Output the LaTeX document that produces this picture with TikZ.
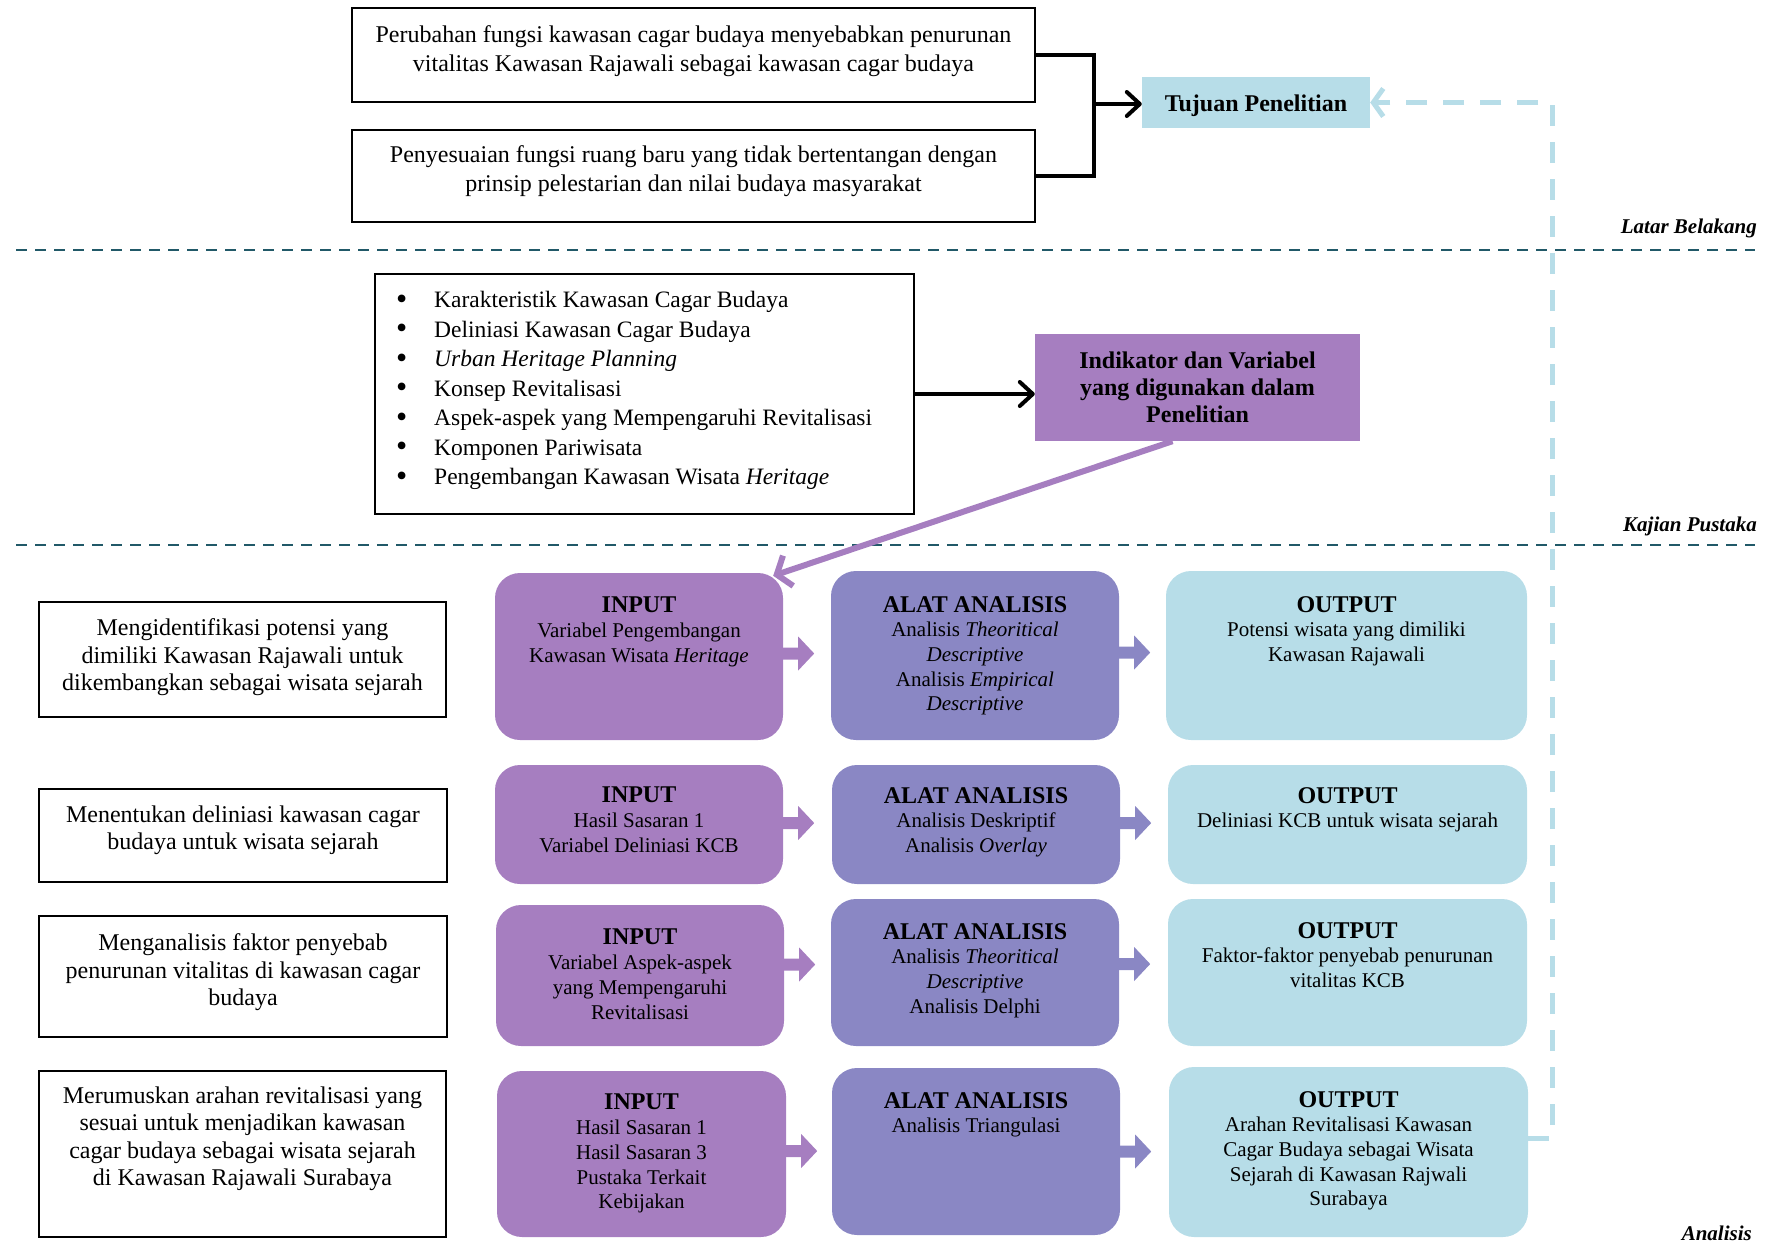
\documentclass[tikz,border=0pt]{standalone}
\usepackage{fontspec}
\setmainfont{Liberation Serif}
\usetikzlibrary{arrows.meta,calc}
\definecolor{inpurple}{HTML}{A67EC0}
\definecolor{alatblue}{HTML}{8A87C4}
\definecolor{outblue}{HTML}{B7DDE8}
\definecolor{septeal}{HTML}{215968}
\newcommand{\boxtitle}[1]{{\fontsize{24}{24.7}\selectfont\bfseries #1}}
\newcommand{\bul}{\makebox[38pt][l]{\raisebox{-1.5pt}{\fontsize{32}{30}\selectfont\textbullet}}}
\newcommand{\blockarrow}[2]{\fill[#1, shift={#2}] (0,-6) -- (15,-6) -- (15,-17) -- (31,0) -- (15,17) -- (15,6) -- (0,6) -- cycle;}
\begin{document}
\begin{tikzpicture}[x=1pt,y=-1pt,
  blackbox/.style={draw=black, line width=1.6pt, inner sep=0pt},
  inbox/.style={fill=inpurple, rounded corners=25pt, inner sep=0pt},
  alatbox/.style={fill=alatblue, rounded corners=25pt, inner sep=0pt},
  outbox/.style={fill=outblue, rounded corners=25pt, inner sep=0pt},
  bodytext/.style={align=center, inner sep=0pt, anchor=north, font=\fontsize{21}{24.7}\selectfont},
  bigtext/.style={align=center, inner sep=0pt, anchor=north, font=\fontsize{24}{28.5}\selectfont},
  lefttext/.style={align=center, inner sep=0pt, anchor=north, font=\fontsize{24}{27.5}\selectfont},
  seclab/.style={anchor=base east, inner sep=0pt, font=\fontsize{21}{24}\selectfont\bfseries\itshape},
  sepline/.style={draw=septeal, line width=2.2pt, dash pattern=on 11pt off 8pt},
  blk/.style={line width=4pt, line join=miter, -{Straight Barb[length=13pt,width=24pt,round]}},
  brk/.style={line width=4pt, line join=miter},
  purparrow/.style={draw=inpurple, line width=6pt, -{Straight Barb[length=12pt,width=32pt]}},
  dashblue/.style={draw=outblue, line width=5pt, dash pattern=on 21pt off 16pt, -{Straight Barb[length=10pt,width=28pt]}}
]
\useasboundingbox (0,0) rectangle (1767,1256);

% ---------- Latar Belakang ----------
\node[blackbox, minimum width=683pt, minimum height=94pt] (T1) at (693.5,55) {};
\node[bigtext] (T1t) at (693.5,25.5) {Perubahan fungsi kawasan cagar budaya menyebabkan penurunan\\vitalitas Kawasan Rajawali sebagai kawasan cagar budaya};
\node[blackbox, minimum width=683pt, minimum height=92pt] (T2) at (693.5,176) {};
\node[bigtext] (T2t) at (693.5,145.5) {Penyesuaian fungsi ruang baru yang tidak bertentangan dengan\\prinsip pelestarian dan nilai budaya masyarakat};
\node[fill=outblue, minimum width=228pt, minimum height=51pt, inner sep=0pt, text height=17pt, text depth=0pt, font=\fontsize{24}{28}\selectfont\bfseries] (Tuj) at (1256,102.5) {Tujuan Penelitian};
\coordinate (bk) at (1094,104);
\draw[brk] (T1.east) -| (bk) |- (T2.east);
\draw[blk] (bk) -- (Tuj.west |- bk);

\draw[sepline] (16,250) -- (1755,250);
\node[seclab] (lb1) at (1757,233) {Latar Belakang};

% ---------- Kajian Pustaka ----------
\node[blackbox, minimum width=539pt, minimum height=240pt] (B) at (644.5,394) {};
\node[anchor=north west, inner sep=0pt, align=left, font=\fontsize{23.5}{29.5}\selectfont] (Bt) at (396,291) {\bul Karakteristik Kawasan Cagar Budaya\\
\bul Deliniasi Kawasan Cagar Budaya\\
\bul \textit{Urban Heritage Planning}\\
\bul Konsep Revitalisasi\\
\bul Aspek-aspek yang Mempengaruhi Revitalisasi\\
\bul Komponen Pariwisata\\
\bul Pengembangan Kawasan Wisata \textit{Heritage}};
\node[fill=inpurple, minimum width=325pt, minimum height=107pt, inner sep=0pt, align=center, font=\fontsize{24}{27}\selectfont\bfseries] (Ind) at (1197.5,387.5) {Indikator dan Variabel\\yang digunakan dalam\\Penelitian};
\draw[blk] (B.east) -- (Ind.west |- B.east);

\draw[sepline] (16,545) -- (1755,545);
\node[seclab] (lb2) at (1757,531) {Kajian Pustaka};

% ---------- Analisis: left boxes ----------
\node[blackbox, minimum width=407pt, minimum height=115pt] (L1) at (242.5,659.5) {};
\node[lefttext] (L1t) at (242.5,618.5) {Mengidentifikasi potensi yang\\dimiliki Kawasan Rajawali untuk\\dikembangkan sebagai wisata sejarah};
\node[blackbox, minimum width=408pt, minimum height=93pt] (L2) at (243,835.5) {};
\node[lefttext] (L2t) at (243,805.5) {Menentukan deliniasi kawasan cagar\\budaya untuk wisata sejarah};
\node[blackbox, minimum width=408pt, minimum height=121pt] (L3) at (243,976.5) {};
\node[lefttext] (L3t) at (243,933.5) {Menganalisis faktor penyebab\\penurunan vitalitas di kawasan cagar\\budaya};
\node[blackbox, minimum width=407pt, minimum height=166pt] (L4) at (242.5,1154) {};
\node[lefttext] (L4t) at (242.5,1086.5) {Merumuskan arahan revitalisasi yang\\sesuai untuk menjadikan kawasan\\cagar budaya sebagai wisata sejarah\\di Kawasan Rajawali Surabaya};

% ---------- INPUT ----------
\node[inbox, minimum width=288pt, minimum height=167pt] (I1) at (639,656.5) {};
\node[bodytext] (I1t) at (639,597) {\boxtitle{INPUT}\\Variabel Pengembangan\\Kawasan Wisata \textit{Heritage}};
\node[inbox, minimum width=288pt, minimum height=119pt] (I2) at (639,824.5) {};
\node[bodytext] (I2t) at (639,787) {\boxtitle{INPUT}\\Hasil Sasaran 1\\Variabel Deliniasi KCB};
\node[inbox, minimum width=288pt, minimum height=141pt] (I3) at (640,975.5) {};
\node[bodytext] (I3t) at (640,929) {\boxtitle{INPUT}\\Variabel Aspek-aspek\\yang Mempengaruhi\\Revitalisasi};
\node[inbox, minimum width=289pt, minimum height=166pt] (I4) at (641.5,1154) {};
\node[bodytext] (I4t) at (641.5,1094) {\boxtitle{INPUT}\\Hasil Sasaran 1\\Hasil Sasaran 3\\Pustaka Terkait\\Kebijakan};

% ---------- ALAT ANALISIS ----------
\node[alatbox, minimum width=288pt, minimum height=169pt] (A1) at (975,655.5) {};
\node[bodytext] (A1t) at (975,596) {\boxtitle{ALAT ANALISIS}\\Analisis \textit{Theoritical}\\\textit{Descriptive}\\Analisis \textit{Empirical}\\\textit{Descriptive}};
\node[alatbox, minimum width=288pt, minimum height=119pt] (A2) at (976,824.5) {};
\node[bodytext] (A2t) at (976,787) {\boxtitle{ALAT ANALISIS}\\Analisis Deskriptif\\Analisis \textit{Overlay}};
\node[alatbox, minimum width=288pt, minimum height=147pt] (A3) at (975,972.5) {};
\node[bodytext] (A3t) at (975,923) {\boxtitle{ALAT ANALISIS}\\Analisis \textit{Theoritical}\\\textit{Descriptive}\\Analisis Delphi};
\node[alatbox, minimum width=288pt, minimum height=167pt] (A4) at (976,1151.5) {};
\node[bodytext] (A4t) at (976,1092) {\boxtitle{ALAT ANALISIS}\\Analisis Triangulasi};

% ---------- OUTPUT ----------
\node[outbox, minimum width=361pt, minimum height=169pt] (O1) at (1346.5,655.5) {};
\node[bodytext] (O1t) at (1346.5,596) {\boxtitle{OUTPUT}\\Potensi wisata yang dimiliki\\Kawasan Rajawali};
\node[outbox, minimum width=359pt, minimum height=119pt] (O2) at (1347.5,824.5) {};
\node[bodytext] (O2t) at (1347.5,787) {\boxtitle{OUTPUT}\\Deliniasi KCB untuk wisata sejarah};
\node[outbox, minimum width=359pt, minimum height=147pt] (O3) at (1347.5,972.5) {};
\node[bodytext] (O3t) at (1347.5,922) {\boxtitle{OUTPUT}\\Faktor-faktor penyebab penurunan\\vitalitas KCB};
\node[outbox, minimum width=359pt, minimum height=170pt] (O4) at (1348.5,1152) {};
\node[bodytext] (O4t) at (1348.5,1091) {\boxtitle{OUTPUT}\\Arahan Revitalisasi Kawasan\\Cagar Budaya sebagai Wisata\\Sejarah di Kawasan Rajwali\\Surabaya};

% ---------- block arrows ----------
\blockarrow{inpurple}{($(I1.east)+(0,-3)$)}
\blockarrow{inpurple}{($(I2.east)+(0,-1.5)$)}
\blockarrow{inpurple}{($(I3.east)+(0,-11)$)}
\blockarrow{inpurple}{($(I4.east)+(0,-3)$)}
\blockarrow{alatblue}{($(A1.east)+(0,-3)$)}
\blockarrow{alatblue}{($(A2.east)+(0,-1.5)$)}
\blockarrow{alatblue}{($(A3.east)+(0,-8.5)$)}
\blockarrow{alatblue}{(A4.east)}

% ---------- connectors ----------
\draw[purparrow] ($(Ind.south)+(-25,0)$) -- ($(I1.north east)+(-10,3)$);
\coordinate (dr) at (1552,1138);
\draw[dashblue] ($(O4.east)+(0,-14)$) -- (dr) |- (Tuj.east);

\node[seclab] (lb3) at (1752,1240) {Analisis};
\end{tikzpicture}
\end{document}
